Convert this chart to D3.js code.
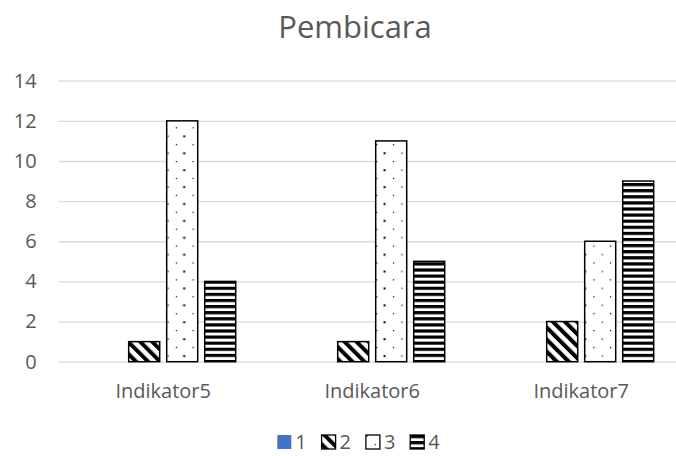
<!DOCTYPE html>
<html>
<head>
<meta charset="utf-8">
<script src="https://cdn.jsdelivr.net/npm/d3@7.9.0/dist/d3.min.js"></script>
<style>
  body { margin: 0; background: #fff; }
  svg text { font-family: "Open Sans", "Noto Sans", sans-serif; fill: #595959; }
</style>
</head>
<body>
<svg id="chart" width="676" height="456"></svg>
<script>
// chart data
const categories = ['Indikator5', 'Indikator6', 'Indikator7'];
const seriesNames = ['1', '2', '3', '4'];
const series1 = [0, 0, 0];
const series2 = [1, 1, 2];
const series3 = [12, 11, 6];
const series4 = [4, 5, 9];
const yTicks = [0, 2, 4, 6, 8, 10, 12, 14];

const allSeries = [series1, series2, series3, series4];
const fills = ['#4472c4', 'url(#diag)', 'url(#dots)', 'url(#hstripe)'];

const width = 676, height = 456;
const left = 58.7;
const svg = d3.select('#chart');

// patterns
const defs = svg.append('defs');
let diag = defs.append('pattern')
    .attr('id', 'diag')
    .attr('patternUnits', 'userSpaceOnUse')
    .attr('width', 8.5).attr('height', 8.5)
    .attr('patternTransform', 'rotate(-45)');
diag.append('rect').attr('width', 8.5).attr('height', 8.5).attr('fill', '#fff');
diag.append('rect').attr('width', 4).attr('height', 8.5).attr('fill', '#000');

let dots = defs.append('pattern')
    .attr('id', 'dots')
    .attr('patternUnits', 'userSpaceOnUse')
    .attr('width', 33.4).attr('height', 16.9);
dots.append('rect').attr('width', 33.4).attr('height', 16.9).attr('fill', '#fff');
dots.append('rect').attr('x', 0.5).attr('y', 0.5).attr('width', 1.2).attr('height', 1.2).attr('fill', '#000');
dots.append('rect').attr('x', 16.2).attr('y', 0.2).attr('width', 2).attr('height', 2).attr('fill', '#000');
dots.append('rect').attr('x', 8.8).attr('y', 8.9).attr('width', 1.2).attr('height', 1.2).attr('fill', '#000');
dots.append('rect').attr('x', 25.5).attr('y', 8.9).attr('width', 1.2).attr('height', 1.2).attr('fill', '#000');

let hs = defs.append('pattern')
    .attr('id', 'hstripe')
    .attr('patternUnits', 'userSpaceOnUse')
    .attr('width', 6).attr('height', 6.1);
hs.append('rect').attr('width', 6).attr('height', 6.1).attr('fill', '#fff');
hs.append('rect').attr('width', 6).attr('height', 3.2).attr('fill', '#000');

// scales
const y = d3.scaleLinear().domain([0, 14]).range([361.7, 80.7]);
const x0 = d3.scaleBand().domain(categories).range([left, 685.7]);
const x1 = d3.scaleBand().domain(seriesNames).range([0, x0.bandwidth()])
    .paddingInner(0.184).paddingOuter(0.842);

// gridlines + y labels
const yAxis = svg.append('g')
    .attr('transform', `translate(${left},0)`)
    .call(d3.axisLeft(y).tickValues(yTicks).tickSize(-(width - left)).tickPadding(22));
yAxis.select('.domain').remove();
yAxis.selectAll('line').attr('stroke', '#d9d9d9').attr('stroke-width', 1.3);
yAxis.selectAll('text')
    .style('font-size', '20px')
    .style('font-family', '"Open Sans", sans-serif')
    .attr('fill', '#595959');

// bars
allSeries.forEach((vals, s) => {
    if (s === 0) return; // zero values draw nothing
    svg.append('g')
        .selectAll('rect')
        .data(vals)
        .join('rect')
        .attr('x', (d, i) => x0(categories[i]) + x1(seriesNames[s]))
        .attr('y', (d) => y(d))
        .attr('width', x1.bandwidth())
        .attr('height', (d) => y(0) - y(d))
        .attr('fill', fills[s])
        .attr('stroke', '#000')
        .attr('stroke-width', 1.5);
});

// category labels
svg.append('g')
    .selectAll('text')
    .data(categories)
    .join('text')
    .attr('x', (d) => x0(d) + x0.bandwidth() / 2)
    .attr('y', 398)
    .attr('text-anchor', 'middle')
    .style('font-size', '20px')
    .text((d) => d);

// title
svg.append('text')
    .attr('x', 355)
    .attr('y', 38)
    .attr('text-anchor', 'middle')
    .style('font-size', '31px')
    .text('Pembicara');

// legend
const legend = svg.append('g').attr('transform', 'translate(277.3,435)');
seriesNames.forEach((name, i) => {
    let item = legend.append('g').attr('transform', `translate(${i * 44.3},0)`);
    item.append('rect')
        .attr('width', 14).attr('height', 14)
        .attr('fill', fills[i])
        .attr('stroke', i === 0 ? 'none' : '#000')
        .attr('stroke-width', 1.3);
    item.append('text')
        .attr('x', 18)
        .attr('y', 14)
        .style('font-size', '20px')
        .text(name);
});
</script>
</body>
</html>
